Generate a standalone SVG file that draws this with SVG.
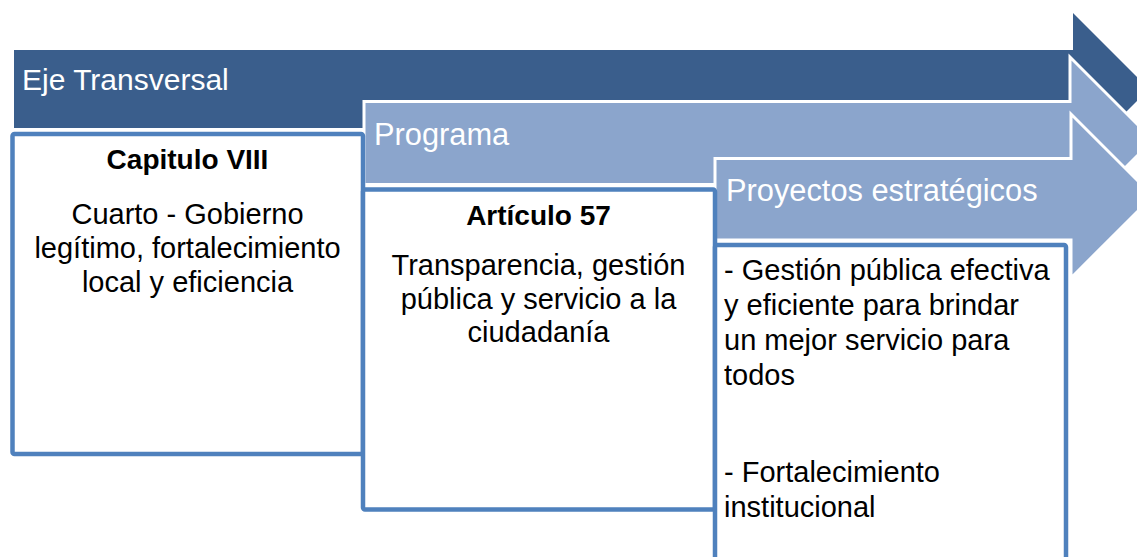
<svg xmlns="http://www.w3.org/2000/svg" width="1137" height="557" viewBox="0 0 1137 557">
<style>
.hdr{font-family:"Liberation Sans",Arial,sans-serif;font-size:30px;fill:#ffffff}
.hdr2{font-size:30.8px}
.bt{font-family:"Liberation Sans",Arial,sans-serif;font-size:29px;fill:#000000}
.b{font-weight:bold;font-size:28px}
.box{fill:#ffffff;stroke:#4F81BD;stroke-width:4.5}
.arr2{fill:#8BA5CC;stroke:#ffffff;stroke-width:3}
</style>
<rect width="1137" height="557" fill="#ffffff"/>
<g id="arrow-eje">
<path d="M14,50 H1073 V13 L1149,89 L1073,165 V128 H14 Z" fill="#3A5E8C"/>
<text class="hdr" x="22" y="90">Eje Transversal</text>
</g>
<g id="arrow-programa">
<path class="arr2" d="M364,101.5 H1070 V57 L1153,140 L1070,223 V184.5 H364 Z"/>
<text class="hdr hdr2" x="374" y="145">Programa</text>
</g>
<g id="arrow-proyectos">
<path class="arr2" d="M715,158.5 H1071 V114 L1153,196 L1071,278 V240 H715 Z"/>
<text class="hdr hdr2" x="726" y="201">Proyectos estratégicos</text>
</g>
<g id="box-capitulo">
<rect class="box" x="12.5" y="134" width="350.5" height="320" rx="2"/>
<text class="bt b" x="187.5" y="169" text-anchor="middle">Capitulo VIII</text>
<text class="bt" x="187.5" y="224" text-anchor="middle">Cuarto - Gobierno</text>
<text class="bt" x="187.5" y="258" text-anchor="middle">legítimo, fortalecimiento</text>
<text class="bt" x="187.5" y="292" text-anchor="middle">local y eficiencia</text>
</g>
<g id="box-articulo">
<rect class="box" x="363" y="189.5" width="352" height="320" rx="2"/>
<text class="bt b" x="538.5" y="225" text-anchor="middle">Artículo 57</text>
<text class="bt" x="538.5" y="275" text-anchor="middle">Transparencia, gestión</text>
<text class="bt" x="538.5" y="308.5" text-anchor="middle">pública y servicio a la</text>
<text class="bt" x="538.5" y="342" text-anchor="middle">ciudadanía</text>
</g>
<g id="box-proyectos">
<rect class="box" x="715" y="245" width="351" height="340" rx="2"/>
<text class="bt" x="724" y="280">- Gestión pública efectiva</text>
<text class="bt" x="724" y="315">y eficiente para brindar</text>
<text class="bt" x="724" y="350">un mejor servicio para</text>
<text class="bt" x="724" y="385">todos</text>
<text class="bt" x="724" y="482">- Fortalecimiento</text>
<text class="bt" x="724" y="517">institucional</text>
</g>
<g id="connectors"></g>
</svg>
